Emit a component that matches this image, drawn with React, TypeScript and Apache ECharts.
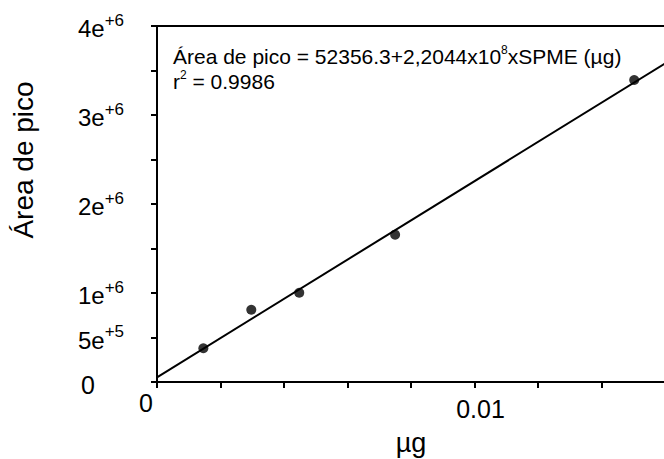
import React, { useEffect, useRef } from "react";
import * as echarts from "echarts";

const massUg = [0.00146, 0.00297, 0.00448, 0.0075, 0.01503];
const peakArea = [379000, 812000, 1003000, 1655000, 3393000];
const fitIntercept = 52356.3;
const fitSlope = 2.2044e8;
const fitRange = [0, 0.016];
const yTickLabels: Record<string, string> = {
  "0": "{z|0}",
  "500000": "{b|5e}{s|+5}",
  "1000000": "{b|1e}{s|+6}",
  "2000000": "{b|2e}{s|+6}",
  "3000000": "{b|3e}{s|+6}",
  "4000000": "{b|4e}{s|+6}",
};
const eqLine1 = "Área de pico = 52356.3+2,2044x10{s|8}xSPME (µg)";
const eqLine2 = "r{s|2} = 0.9986";

const FONT = "'Liberation Sans', Arial, Helvetica, sans-serif";

export default function App() {
  const ref = useRef<HTMLDivElement>(null);
  useEffect(() => {
    if (!ref.current) return;
    const chart = echarts.init(ref.current, null, { renderer: "svg" });
    const scatterData = massUg.map((x, i) => [x, peakArea[i]]);
    const fitData = fitRange.map((x) => [x, fitIntercept + fitSlope * x]);
    chart.setOption({
      animation: false,
      backgroundColor: "#ffffff",
      grid: { left: 157, top: 26, width: 508, height: 356, outerBoundsMode: "none", containLabel: false },
      xAxis: [
        {
          type: "value",
          min: 0,
          max: 0.016,
          interval: 0.002,
          name: "µg",
          nameLocation: "middle",
          nameGap: 47,
          nameTextStyle: { fontFamily: FONT, fontSize: 27, color: "#000" },
          axisLine: { show: true, onZero: false, lineStyle: { color: "#000", width: 2 } },
          axisTick: { show: true, length: 6, lineStyle: { color: "#000", width: 2 } },
          splitLine: { show: false },
          axisLabel: {
            margin: 8,
            color: "#000",
            fontFamily: FONT,
            formatter: (v: number) => {
              if (Math.abs(v) < 1e-12) return "{z|0}";
              if (Math.abs(v - 0.01) < 1e-9) return "{a|0.01}";
              return "";
            },
            rich: {
              z: { fontSize: 25, fontFamily: FONT, color: "#000", padding: [0, 22, 0, 0] },
              a: { fontSize: 25, fontFamily: FONT, color: "#000", padding: [6, 0, 0, 12] },
            },
          },
        },
        {
          type: "value",
          position: "top",
          min: 0,
          max: 0.016,
          axisLine: { show: true, onZero: false, lineStyle: { color: "#000", width: 2 } },
          axisTick: { show: false },
          axisLabel: { show: false },
          splitLine: { show: false },
        },
      ],
      yAxis: {
        type: "value",
        min: 0,
        max: 4000000,
        interval: 500000,
        name: "Área de pico",
        nameLocation: "middle",
        nameRotate: 90,
        nameGap: 120,
        nameTextStyle: { fontFamily: FONT, fontSize: 28, color: "#000", padding: [0, 0, 0, 88] },
        axisLine: { show: true, onZero: false, lineStyle: { color: "#000", width: 2 } },
        axisTick: { show: true, length: 6, lineStyle: { color: "#000", width: 2 } },
        splitLine: { show: false },
        axisLabel: {
          align: "left",
          margin: 79,
          color: "#000",
          fontFamily: FONT,
          formatter: (v: number) => yTickLabels[String(Math.round(v))] || "",
          rich: {
            z: { fontSize: 25, fontFamily: FONT, color: "#000", padding: [6, 0, 0, 3] },
            b: { fontSize: 24, fontFamily: FONT, color: "#000", verticalAlign: "bottom" },
            s: { fontSize: 17, fontFamily: FONT, color: "#000", verticalAlign: "bottom", padding: [0, 0, 12, 0] },
          },
        },
      },
      graphic: [
        {
          type: "text",
          left: 173,
          top: 44,
          z: 100,
          style: {
            text: eqLine1 + "\n" + eqLine2,
            fontFamily: FONT,
            fontSize: 21,
            lineHeight: 25,
            fill: "#000",
            rich: {
              s: { fontSize: 12, fontFamily: FONT, fill: "#000", verticalAlign: "top", lineHeight: 25 },
            },
          },
        },
      ],
      series: [
        {
          type: "line",
          data: fitData,
          showSymbol: false,
          symbol: "none",
          lineStyle: { color: "#000", width: 2 },
          silent: true,
        },
        {
          type: "scatter",
          data: scatterData,
          symbol: "circle",
          symbolSize: 10,
          itemStyle: { color: "#000" },
        },
      ],
    });
    return () => chart.dispose();
  }, []);
  return <div ref={ref} style={{ width: 664, height: 459, position: "absolute", left: 0, top: 0 }} />;
}
